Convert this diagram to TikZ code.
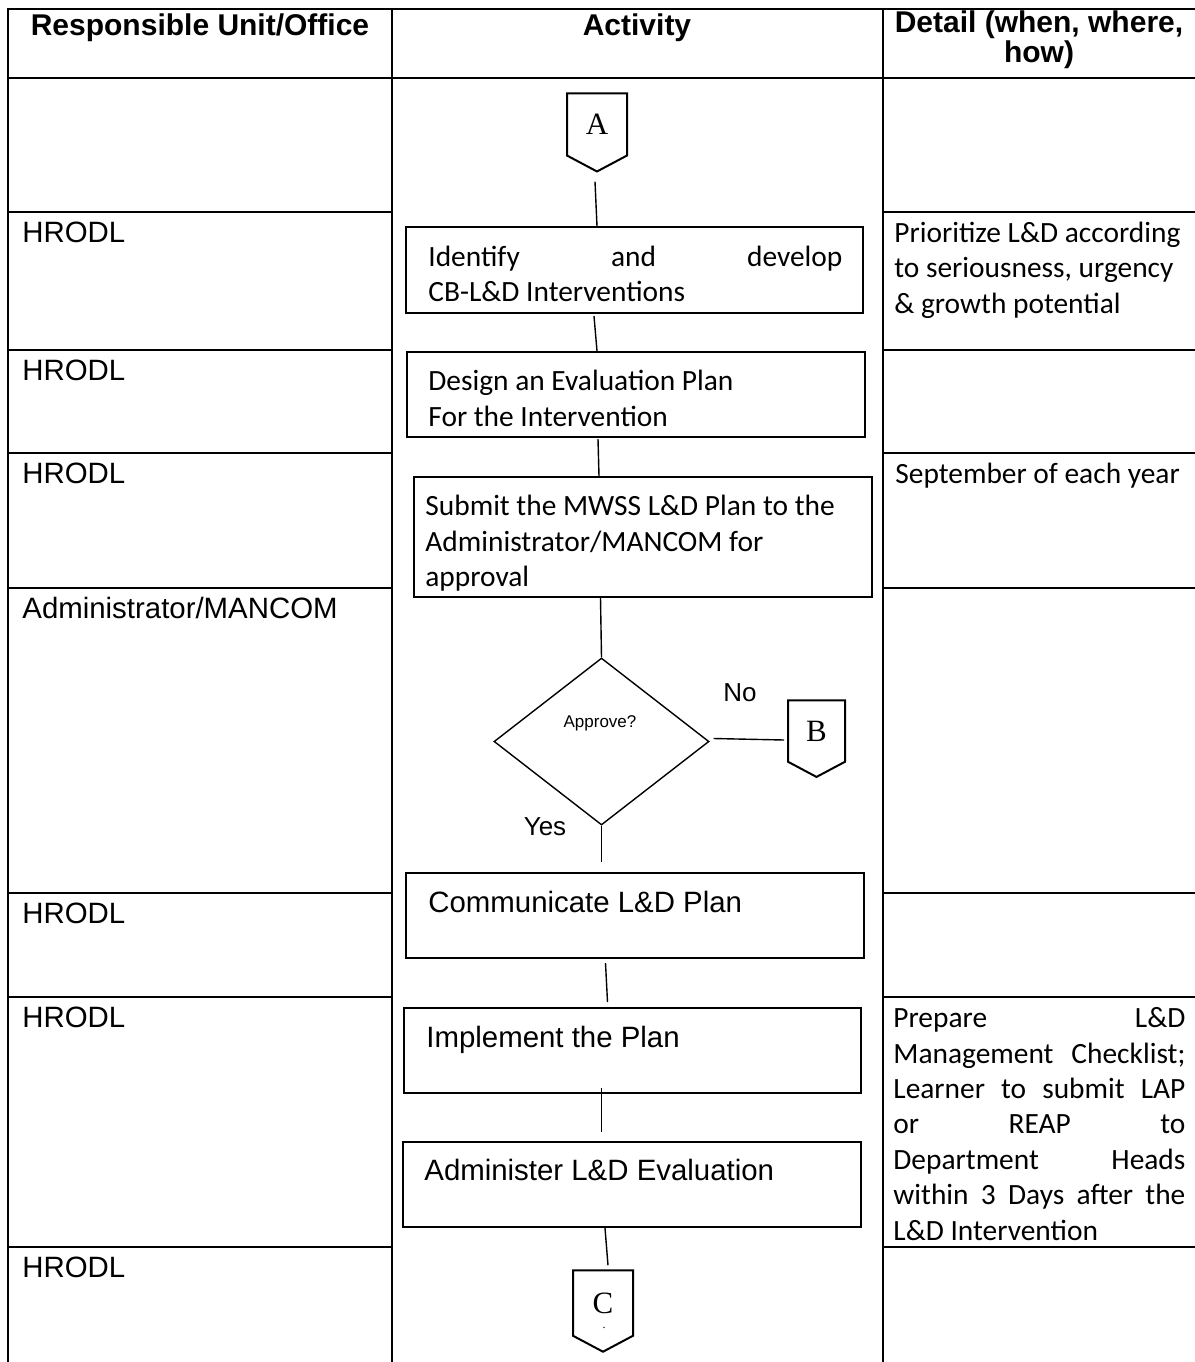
\documentclass[tikz,border=0pt]{standalone}
\usepackage{fontspec}
\setmainfont{Liberation Sans}
\newfontfamily\carlito{Carlito}
\newfontfamily\timesfont{Liberation Serif}
\usetikzlibrary{shapes.geometric, shapes.symbols, calc}

\newcommand\spreadline[2]{\makebox[#1][s]{#2}}

\tikzset{
  tablerule/.style={line width=1.3pt},
  head/.style={font=\fontsize{15}{13}\selectfont\bfseries, inner sep=0, anchor=base},
  unit/.style={font=\fontsize{14.7}{17}\selectfont, inner sep=0, anchor=base west},
  detail/.style={font=\carlito\fontsize{14.7}{17.7}\selectfont, inner sep=0, anchor=base west, align=left},
  activity/.style={draw, line width=1pt, inner sep=0},
  acttext/.style={inner sep=0, anchor=base west, align=left},
  decision/.style={draw, diamond, line width=0.7pt, inner sep=0},
  offpage/.style={draw, signal, signal to=south, signal pointer angle=124, line width=1pt, inner sep=0,
    font=\timesfont\fontsize{15.5}{18}\selectfont},
  answer/.style={font=\fontsize{13}{15}\selectfont, inner sep=0},
  link/.style={line width=0.7pt}
}

\begin{document}
\begin{tikzpicture}[x=0.5pt, y=-0.5pt]
\useasboundingbox (0,0) rectangle (1195,1362);

% table frame
\draw[tablerule] (8,1362) -- (8,9) -- (1195,9);
\draw[tablerule] (8,78) -- (1195,78);
\draw[tablerule] (392,9) -- (392,1362);
\draw[tablerule] (883,9) -- (883,1362);
\foreach \y in {212,350,453,588,893,997,1247} {
  \draw[tablerule] (8,\y) -- (392,\y);
  \draw[tablerule] (883,\y) -- (1195,\y);
}

% header (multi-line nodes sit on their last line)
\node[head] (hunit) at (200,35) {Responsible Unit/Office};
\node[head] (hact) at (637,35) {Activity};
\node[head, align=center] (hdetail) at (1039,62) {Detail (when, where,\\how)};

% responsible units
\node[unit] (u1) at (22,242) {HRODL};
\node[unit] (u2) at (22,380) {HRODL};
\node[unit] (u3) at (22,483) {HRODL};
\node[unit] (u4) at (22,618) {Administrator/MANCOM};
\node[unit] (u5) at (22,923) {HRODL};
\node[unit] (u6) at (22,1027) {HRODL};
\node[unit] (u7) at (22,1277) {HRODL};

% details
\node[detail] (d1) at (894,313) {Prioritize L\&D according\\to seriousness, urgency\\\& growth potential};
\node[detail] (d2) at (895,483) {September of each year};
\node[detail] (d3) at (893,1240) {\spreadline{146pt}{Prepare L\&D}\\
  \spreadline{146pt}{Management Checklist;}\\
  \spreadline{146pt}{Learner to submit LAP}\\
  \spreadline{146pt}{or REAP to}\\
  \spreadline{146pt}{Department Heads}\\
  \spreadline{146pt}{within 3 Days after the}\\
  L\&D Intervention};

% activities
\node[offpage, minimum width=30pt, minimum height=34pt] (A) at (597,124.5) {A};
\node[activity, minimum width=228.5pt, minimum height=43pt] (identify) at (634.5,270) {};
\node[acttext, font=\carlito\fontsize{14.7}{17.7}\selectfont] (identifyt) at (428,301.5)
  {\spreadline{207pt}{Identify and develop}\\CB-L\&D Interventions};
\node[activity, minimum width=229pt, minimum height=42.5pt] (design) at (636,394.5) {};
\node[acttext, font=\carlito\fontsize{14.7}{17.7}\selectfont] (designt) at (428,426)
  {Design an Evaluation Plan\\For the Intervention};
\node[activity, minimum width=229pt, minimum height=60pt] (submit) at (643,537) {};
\begin{scope}
  \clip ($(submit.north west)+(2,2)$) rectangle ($(submit.south east)+(-2,-8)$);
  \node[acttext, font=\carlito\fontsize{14.7}{17.7}\selectfont] (submitt) at (425,586.5)
    {Submit the MWSS L\&D Plan to the\\Administrator/MANCOM for\\approval};
\end{scope}
\node[decision, minimum width=107.5pt, minimum height=83.5pt] (approve) at (601.5,741.5) {};
\node[font=\fontsize{8.5}{10}\selectfont, inner sep=0] (approvet) at (600,723) {Approve?};
\node[answer] (no) at (740,693) {No};
\node[answer] (yes) at (545,827) {Yes};
\node[offpage, minimum width=28.5pt, minimum height=33.5pt] (B) at (816.5,731) {B};
\node[activity, minimum width=229pt, minimum height=42.5pt] (communicate) at (635,915.5) {};
\node[acttext, font=\fontsize{14.7}{17}\selectfont] (communicatet) at (428,912.5) {Communicate L\&D Plan};
\node[activity, minimum width=228.5pt, minimum height=42.5pt] (implement) at (632.5,1050.5) {};
\node[acttext, font=\fontsize{14.7}{17}\selectfont] (implementt) at (426,1047.5) {Implement the Plan};
\node[activity, minimum width=229pt, minimum height=42.5pt] (administer) at (632,1184.5) {};
\node[acttext, font=\fontsize{14.7}{17}\selectfont] (administert) at (424,1180.5) {Administer L\&D Evaluation};
\node[offpage, minimum width=30pt, minimum height=35.5pt] (C) at (603,1303) {C};
\node[font=\timesfont\fontsize{6}{6}\selectfont, inner sep=0] (cdot) at (604,1328) {.};

% connectors
\draw[link] ($(A.south)+(-2,9)$) -- (A.south |- identify.north);
\draw[link] ($(A.south |- identify.south)+(-3,2)$) -- (A.south |- design.north);
\draw[link] ($(A.south |- design.south)+(1,1)$) -- ($(A.south |- submit.north)+(2,0)$);
\draw[link] ($(approve.north |- submit.south)+(-1,0)$) -- (approve.north);
\draw[link] (approve.south) -- ($(approve.south |- communicate.north)+(0,-10)$);
\draw[link] ($(approve.south |- communicate.south)+(4,4)$) -- ($(approve.south |- implement.north)+(6,-5)$);
\draw[link] ($(approve.south |- implement.south)+(0,-6)$) -- ($(approve.south |- administer.north)+(0,-9)$);
\draw[link] ($(C.north |- administer.south)+(2,0)$) -- ($(C.north)+(5,-4)$);
\draw[link] ($(approve.east)+(4,-3)$) -- ($(B.west)+(-3,9)$);
\end{tikzpicture}
\end{document}
